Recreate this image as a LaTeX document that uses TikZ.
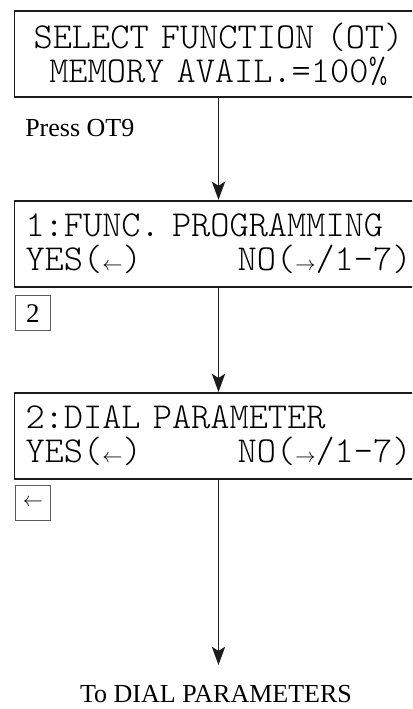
\documentclass[tikz,border=0pt]{standalone}
\usepackage{fontspec}
\setmainfont{Liberation Serif}
\newfontfamily\lcdfont{lmmonolt10-regular.otf}
\usepackage{tikz}
\usetikzlibrary{arrows.meta,positioning}
\definecolor{lcdline}{HTML}{1C1C1C}
\definecolor{keyline}{HTML}{5A5A5A}
\newcommand{\lcdtype}{\lcdfont\fontsize{26pt}{24.2pt}\selectfont
  \fontdimen2\font=0.525em\relax}
\newcommand{\lcdl}{{\fontsize{14.2pt}{14.2pt}\selectfont$\leftarrow$}}
\newcommand{\lcdr}{{\fontsize{14.2pt}{14.2pt}\selectfont$\rightarrow$}}

\begin{document}
\begin{tikzpicture}[
  lcd/.style={draw=lcdline,line width=1.4pt,minimum width=10.2cm,minimum height=2.15cm,
              text width=9.65cm,inner sep=0pt,font=\lcdtype},
  key/.style={draw=keyline,line width=0.85pt,minimum size=0.875cm,inner sep=0pt},
  note/.style={font=\fontsize{18.5pt}{20pt}\selectfont,inner sep=0pt},
  flow/.style={draw=lcdline,line width=1.1pt,-{Stealth[length=13pt,width=9.5pt,inset=3pt]}}]

\path[use as bounding box,clip] (0,0) rectangle (10.3,17.725);

% ---------------- display screens, one above the other ----------------------
\node[lcd,align=center] (select) at (5.4625,16.375)
  {SELECT FUNCTION (OT)\\MEMORY AVAIL.=100\%};
\node[lcd,align=left] (funcprog) at (5.4625,11.629)
  {1:FUNC. PROGRAMMING\\YES(\lcdl)\hfill NO(\lcdr/1-7)};
\node[lcd,align=left] (dialpar) at (5.4625,6.825)
  {2:DIAL PARAMETER\\YES(\lcdl)\hfill NO(\lcdr/1-7)};

% ---------------- keys pressed under each screen ----------------------------
\node[key,anchor=north west] (key2) at (0.37,10.35)
  {\fontsize{19.2pt}{19.2pt}\selectfont 2};
\node[key,anchor=north west] (keyleft) at (0.37,5.6) {\lcdl};

% ---------------- notes and flow --------------------------------------------
\node[note,anchor=base west] (press) at (0.625,14.3) {Press OT9};
\coordinate (tip) at (5.4625,1.1);
\node[note,anchor=base] (todial) at (5.4,0.15) {To DIAL PARAMETERS};

\draw[flow] (select) -- (funcprog);
\draw[flow] (funcprog) -- (dialpar);
\draw[flow] (dialpar) -- (tip);

\end{tikzpicture}
\end{document}
